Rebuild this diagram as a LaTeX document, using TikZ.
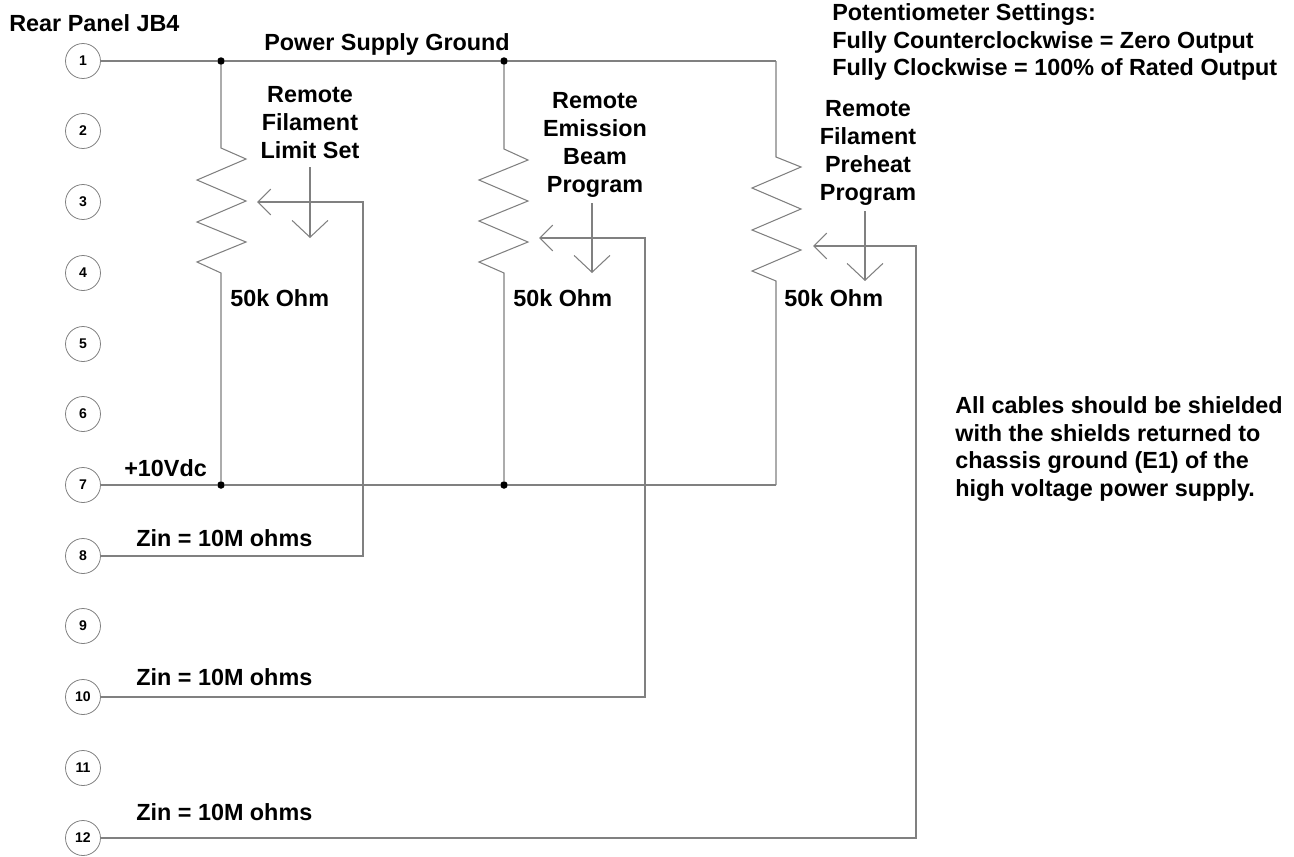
\documentclass[tikz,border=0pt]{standalone}
\usepackage{fontspec}
\setmainfont{Liberation Sans}
\usetikzlibrary{arrows.meta,positioning}
\definecolor{wire}{gray}{0.5}
\tikzset{
    x=0.02cm,y=-0.02cm,
    line/.style={draw=wire,line width=0.6pt},
    pin/.style={circle,draw=wire,line width=0.45pt,minimum size=0.7cm,inner sep=0pt,font=\fontsize{8}{9}\selectfont\bfseries},
    dot/.style={circle,fill=black,inner sep=0pt,minimum size=0.15cm},
    lbl/.style={inner sep=0pt,align=center,font=\fontsize{13.3}{15.9}\selectfont\bfseries},
    lblleft/.style={lbl,align=left,anchor=west},
    wiper/.style={line,-{Straight Barb[length=7.4pt,width=14.7pt]}},
    adjust/.style={line,-{Straight Barb[length=9.6pt,width=20.4pt]}}
}

\begin{document}
\begin{tikzpicture}
  \useasboundingbox (0,0) rectangle (1294,856);

  % connector pins
  \node[pin] (p1) at (83,61) {1};
  \node[pin] (p2) at (83,131) {2};
  \node[pin] (p3) at (83,202) {3};
  \node[pin] (p4) at (83,273) {4};
  \node[pin] (p5) at (83,344) {5};
  \node[pin] (p6) at (83,414) {6};
  \node[pin] (p7) at (83,485) {7};
  \node[pin] (p8) at (83,556) {8};
  \node[pin] (p9) at (83,626) {9};
  \node[pin] (p10) at (83,697) {10};
  \node[pin] (p11) at (83,768) {11};
  \node[pin] (p12) at (83,838) {12};

  % junctions
  \node[dot] (g1) at (221,61) {};
  \node[dot] (g2) at (504,61) {};
  \node[dot] (v1) at (221,485) {};
  \node[dot] (v2) at (504,485) {};
  \coordinate (g3) at (776,61);
  \coordinate (v3) at (776,485);

  % supply rails
  \draw[line] (p1) -- (g1) -- (g2) -- (g3);
  \draw[line] (p7) -- (v1) -- (v2) -- (v3);

  % pots
  \draw[line] (g1) -- (221,148) -- (246,159) -- (197,180) -- (246,201) -- (197,222) -- (246,242) -- (197,262) -- (221,273) -- (v1);
  \draw[line] (g2) -- (504,149) -- (528,160) -- (479,180) -- (528,201) -- (479,221) -- (528,242) -- (479,262) -- (504,273) -- (v2);
  \draw[line] (g3) -- (776,157) -- (801,167) -- (752,188) -- (801,209) -- (752,230) -- (801,250) -- (752,271) -- (776,281) -- (v3);

  % wipers
  \coordinate (t1) at (257,202);
  \coordinate (c1) at (363,202);
  \coordinate (t2) at (539,238);
  \coordinate (c2) at (645,238);
  \coordinate (t3) at (813,246);
  \coordinate (c3) at (916,246);
  \draw[wiper] (p8) -| (c1) -- (t1);
  \draw[wiper] (p10) -| (c2) -- (t2);
  \draw[wiper] (p12) -| (c3) -- (t3);

  % adjust arrows
  \coordinate (a1) at (310,167);
  \coordinate (b1) at (310,238);
  \coordinate (a2) at (592,203);
  \coordinate (b2) at (592,273);
  \coordinate (a3) at (865,211);
  \coordinate (b3) at (865,281);
  \draw[adjust] (a1) -- (b1);
  \draw[adjust] (a2) -- (b2);
  \draw[adjust] (a3) -- (b3);

  % labels
  \node[lblleft] (title) at (9,23) {Rear Panel JB4};
  \node[lbl] (gnd) at (387,44) {Power Supply Ground};
  \node[lbl] (name1) at (310,123) {Remote\\Filament\\Limit Set};
  \node[lbl] (name2) at (595,145) {Remote\\Emission\\Beam\\Program};
  \node[lbl] (name3) at (868,153) {Remote\\Filament\\Preheat\\Program};
  \node[lblleft] (ohm1) at (230,298) {50k Ohm};
  \node[lblleft] (ohm2) at (513,298) {50k Ohm};
  \node[lblleft] (ohm3) at (784,298) {50k Ohm};
  \node[lblleft] (vdc) at (124,468) {+10Vdc};
  \node[lblleft] (zin1) at (136,538) {Zin = 10M ohms};
  \node[lblleft] (zin2) at (136,677) {Zin = 10M ohms};
  \node[lblleft] (zin3) at (136,812) {Zin = 10M ohms};
  \node[lblleft] (note) at (832,42) {Potentiometer Settings:\\Fully Counterclockwise = Zero Output\\Fully Clockwise = 100\% of Rated Output};
  \node[lblleft] (shield) at (955,449) {All cables should be shielded\\with the shields returned to\\chassis ground (E1) of the\\high voltage power supply.};
\end{tikzpicture}
\end{document}
